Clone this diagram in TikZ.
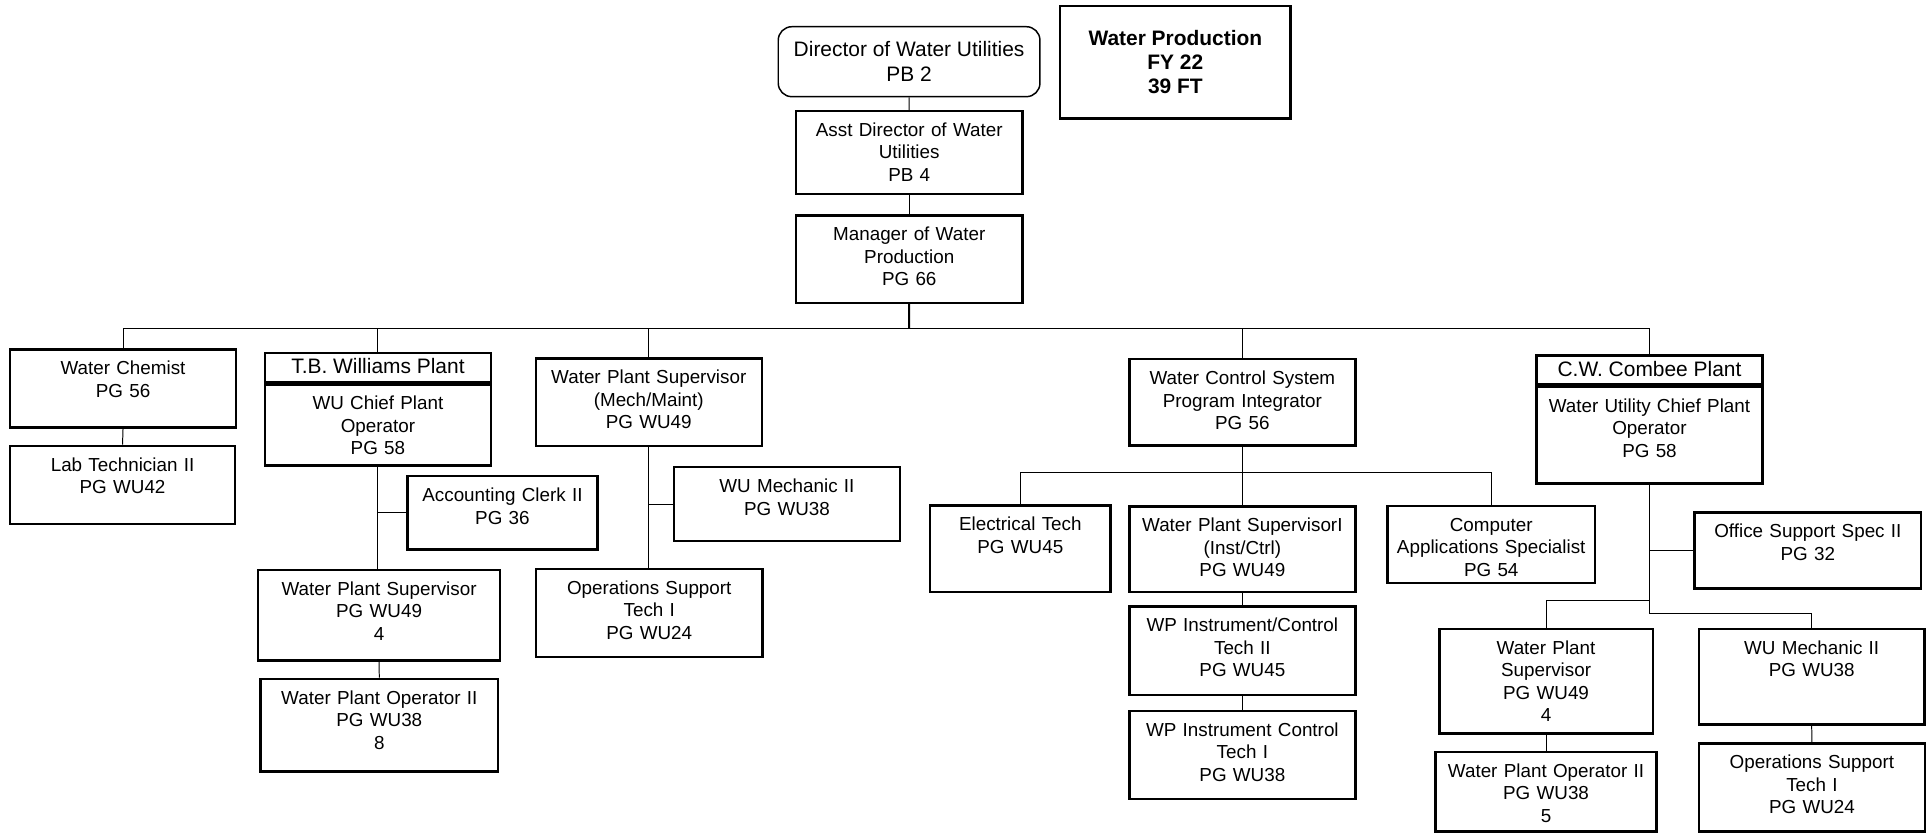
\documentclass[tikz,border=0pt]{standalone}
\usepackage{fontspec}
\setmainfont{Liberation Sans}
\usepackage{tikz}
\usetikzlibrary{positioning}

\begin{document}
\begin{tikzpicture}[
      x=1pt, y=-1pt,
      post/.style={
        draw,
        line width=2pt,
        anchor=north,
        align=center,
        text width=183.5pt,
        inner xsep=0pt,
        inner ysep=9.5pt,
        text height=11pt,
        text depth=#1pt-30pt,
        font=\fontsize{15.3}{18.3}\selectfont
      },
      plant/.style={
        draw,
        line width=2pt,
        anchor=north,
        minimum width=183.3pt,
        minimum height=23.6pt,
        inner sep=0pt,
        text height=12.2pt,
        text depth=2pt,
        font=\fontsize{17}{20}\selectfont
      },
      link/.style={line width=0.8pt}
    ]
      \path[use as bounding box] (0,0) rectangle (1568,676);

      % Top
      \node[draw, line width=1.2pt, rounded corners=11pt, minimum width=212.5pt,
        minimum height=56.8pt, align=center,
        font=\fontsize{17}{20.3}\selectfont] (dir) at (738.2,50.1)
        {Director of Water Utilities\\PB 2};
      \node[draw, line width=2pt, minimum width=187.3pt, minimum height=91.2pt,
        align=center, font=\fontsize{17}{19.7}\selectfont\bfseries] (wp) at (954.4,50.5)
        {Water Production\\FY 22\\39 FT};
      \node[post=67.2, text width=183.8pt] (asst) at (738.3,89.3)
        {Asst Director of Water\\Utilities\\PB 4};
      \node[post=71, text width=183.8pt] (mgr) at (738.3,174)
        {Manager of Water\\Production\\PG 66};

      % Lab
      \node[post=63.2] (chem) at (99.9,282.8) {Water Chemist\\PG 56};
      \node[post=63.4, text width=182.7pt] (lab) at (99.5,361) {Lab Technician II\\PG WU42};

      % T.B. Williams Plant
      \node[plant] (tbwhead) at (306.9,285.6) {T.B. Williams Plant};
      \node[post=65.8, text width=183.3pt] (tbw) at (tbwhead.south) {WU Chief Plant\\Operator\\PG 58};
      \node[post=59.5, text width=154pt] (acct) at (408,385.7) {Accounting Clerk II\\PG 36};
      \node[post=73.6, text width=196.5pt] (tbsup) at (307.8,461.8) {Water Plant Supervisor\\PG WU49\\4};
      \node[post=75, text width=192.7pt] (tbop) at (308,550.3) {Water Plant Operator II\\PG WU38\\8};

      % Maintenance
      \node[post=71.3] (mech) at (526.8,290) {Water Plant Supervisor\\(Mech/Maint)\\PG WU49};
      \node[post=60.1] (mech2) at (639,378.4) {WU Mechanic II\\PG WU38};
      \node[post=71.4, text width=184pt] (ops) at (527.2,461) {Operations Support\\Tech I\\PG WU24};

      % Control systems
      \node[post=70.1] (wcs) at (1008.8,290.7) {Water Control System\\Program Integrator\\PG 56};
      \node[post=70.4, text width=146.7pt] (elec) at (828.5,409.5) {Electrical Tech\\PG WU45};
      \node[post=69.6] (inst) at (1008.8,410.3) {Water Plant SupervisorI\\(Inst/Ctrl)\\PG WU49};
      \node[post=62.5, text width=168.7pt] (comp) at (1210.9,409.8) {Computer\\Applications Specialist\\PG 54};
      \node[post=72] (ic2) at (1008.8,491.5) {WP Instrument/Control\\Tech II\\PG WU45};
      \node[post=71.5] (ic1) at (1008.8,576.5) {WP Instrument Control\\Tech I\\PG WU38};

      % C.W. Combee Plant
      \node[plant, minimum width=183.2pt] (cwhead) at (1339.4,287.5) {C.W. Combee Plant};
      \node[post=78.5, text width=183.2pt] (cw) at (cwhead.south) {Water Utility Chief Plant\\Operator\\PG 58};
      \node[post=62, text width=184pt] (office) at (1468,415) {Office Support Spec II\\PG 32};
      \node[post=85, text width=173.3pt] (cwsup) at (1255.4,509.7) {Water Plant\\Supervisor\\PG WU49\\4};
      \node[post=64.4, text width=179.7pt] (cwop) at (1255.4,609.6) {Water Plant Operator II\\PG WU38\\5};
      \node[post=77.7, text width=183pt] (cwmech) at (1471.1,509.7) {WU Mechanic II\\PG WU38};
      \node[post=71.2, text width=183.4pt] (cwops) at (1471.3,602.8) {Operations Support\\Tech I\\PG WU24};

      % Connections
      \coordinate (bus) at (738.2,266.6);
      \coordinate (wcsbus) at (1008.8,383.3);
      \coordinate (cwleft) at (1339.4,487.7);
      \coordinate (cwright) at (1339.4,497.8);
      \draw[link] (dir.south) -- (asst.north);
      \draw[link] (asst.south) -- (mgr.north);
      \draw[line width=1.6pt] (mgr.south) -- (bus);
      \foreach \n in {chem,tbwhead,mech,wcs,cwhead}
        \draw[link] (bus) -| (\n.north);
      \draw[link] (chem.south) -- (lab.north);
      \draw[link] (tbw.south) -- (tbw.south |- tbsup.north);
      \draw[link] (acct.west) -- (acct.west -| tbw.south);
      \draw[link] (tbsup.south) -- (tbop.north);
      \draw[link] (mech.south) -- (mech.south |- ops.north);
      \draw[link] (mech2.west) -- (mech2.west -| mech.south);
      \draw[link] (wcs.south) -- (inst.north);
      \foreach \n in {elec,comp}
        \draw[link] (wcsbus) -| (\n.north);
      \draw[link] (inst.south) -- (ic2.north);
      \draw[link] (ic2.south) -- (ic1.north);
      \draw[link] (cw.south) -- (cwright) -| (cwmech.north);
      \draw[link] (cwleft) -| (cwsup.north);
      \draw[link] (office.west) -- (office.west -| cw.south);
      \draw[link] (cwsup.south) -- (cwop.north);
      \draw[link] (cwmech.south) -- (cwops.north);
    \end{tikzpicture}
\end{document}
